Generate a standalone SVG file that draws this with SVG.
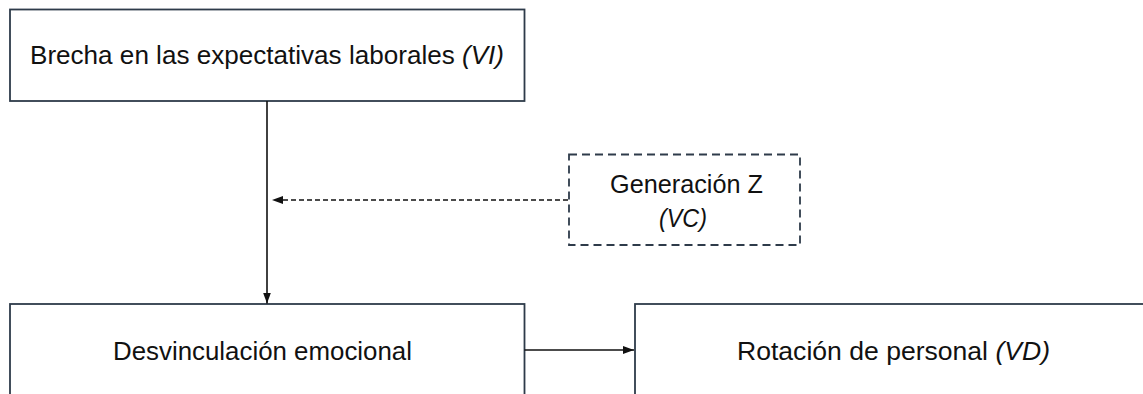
<svg xmlns="http://www.w3.org/2000/svg" width="1143" height="394" viewBox="0 0 1143 394">
  <style>
    .box { fill: #ffffff; stroke: #2e3b4a; stroke-width: 1.8; }
    .dbox { fill: #ffffff; stroke: #2e3b4a; stroke-width: 1.8; stroke-dasharray: 8 5; }
    .lbl { font-family: "Liberation Sans", Arial, sans-serif; font-size: 25px; fill: #111111; }
    .it { font-style: italic; }
    .conn { stroke: #111111; stroke-width: 1.6; fill: none; }
    .dash { stroke-dasharray: 5 3; }
  </style>
  <defs>
    <marker id="ah" markerUnits="userSpaceOnUse" markerWidth="12" markerHeight="10" refX="11" refY="5" orient="auto">
      <path d="M0,1 L11,5 L0,9 Z" fill="#111111"/>
    </marker>
  </defs>
  <rect width="1143" height="394" fill="#ffffff"/>

  <g id="node-vi">
    <rect class="box" x="10" y="9.5" width="514.5" height="91.5"/>
    <text class="lbl" x="30" y="64" textLength="474" lengthAdjust="spacingAndGlyphs">Brecha en las expectativas laborales <tspan class="it">(VI)</tspan></text>
  </g>

  <g id="node-vc">
    <rect class="dbox" x="569" y="154.5" width="231" height="90.5"/>
    <text class="lbl" x="610" y="192.5" textLength="153" lengthAdjust="spacingAndGlyphs">Generación Z</text>
    <text class="lbl it" x="659" y="226.5" textLength="48" lengthAdjust="spacingAndGlyphs">(VC)</text>
  </g>

  <g id="node-desv">
    <rect class="box" x="10" y="304" width="514.5" height="120"/>
    <text class="lbl" x="113" y="360" textLength="299" lengthAdjust="spacingAndGlyphs">Desvinculación emocional</text>
  </g>

  <g id="node-vd">
    <rect class="box" x="635" y="304" width="516" height="120"/>
    <text class="lbl" x="737" y="360" textLength="313" lengthAdjust="spacingAndGlyphs">Rotación de personal <tspan class="it">(VD)</tspan></text>
  </g>

  <g id="connectors">
    <line class="conn" x1="267" y1="101" x2="267" y2="303.5" marker-end="url(#ah)"/>
    <line class="conn dash" x1="568" y1="200" x2="272" y2="200" marker-end="url(#ah)"/>
    <line class="conn" x1="524.5" y1="350" x2="634" y2="350" marker-end="url(#ah)"/>
  </g>
</svg>
